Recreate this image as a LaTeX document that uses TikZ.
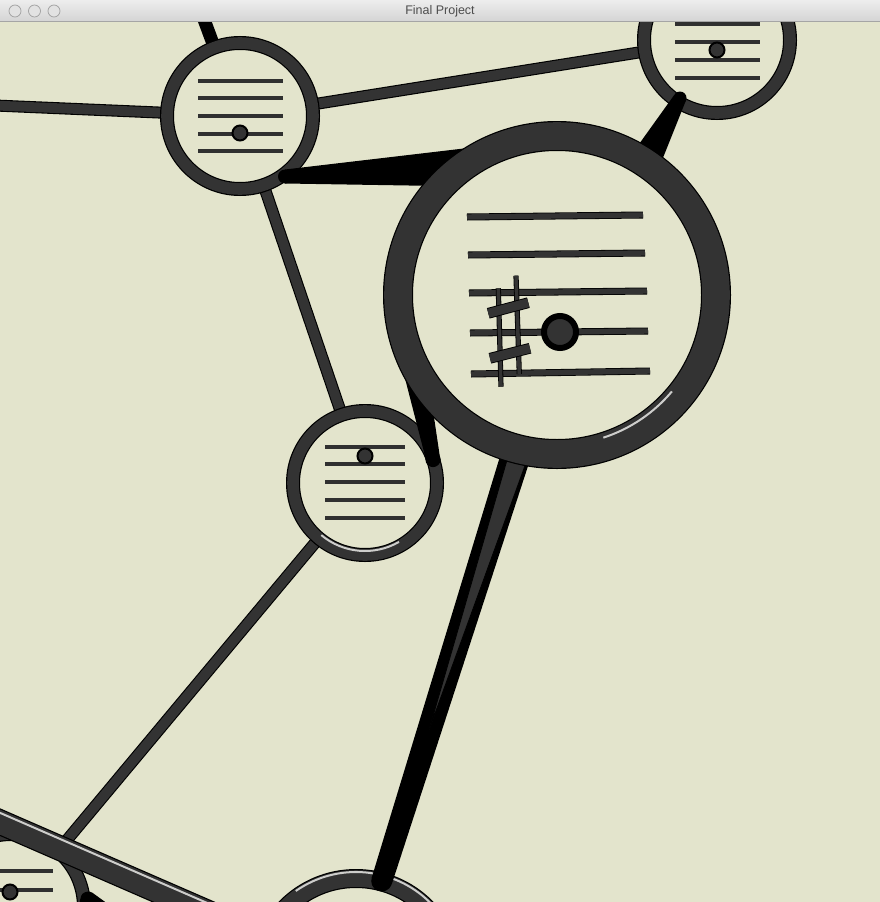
\documentclass[tikz,border=0pt]{standalone}
\usepackage{fontspec}
\setmainfont{Liberation Sans}
\usetikzlibrary{calc}
\definecolor{cream}{RGB}{227,228,204}
\definecolor{ink}{RGB}{51,51,51}
\definecolor{staffc}{RGB}{48,48,48}
\definecolor{hil}{RGB}{205,205,203}
\definecolor{tbtop}{RGB}{237,237,237}
\definecolor{tbbot}{RGB}{212,212,212}
\definecolor{tbline}{RGB}{165,165,165}
\definecolor{titletext}{RGB}{77,77,77}
\definecolor{btnfill}{RGB}{226,226,226}
\definecolor{btnline}{RGB}{160,160,160}
\pgfdeclarelayer{back}
\pgfdeclarelayer{low}
\pgfdeclarelayer{lines}
\pgfdeclarelayer{bar}
\pgfdeclarelayer{wedges}
\pgfdeclarelayer{top}
\pgfdeclarelayer{title}
\pgfsetlayers{back,low,lines,bar,main,wedges,top,title}
\begin{document}
\begin{tikzpicture}[x=1pt,y=-1pt,
  ring/.style={circle, inner sep=0pt, outer sep=0pt, fill=cream, draw=black, line width=1.2pt, double=ink},
  smallring/.style={ring, minimum size=146pt, double distance=11.6pt},
  greyconn/.style={draw=black, line width=1.1pt, double=ink, double distance=9.8pt},
  staffsmall/.style={draw=staffc, line width=4pt},
  staffbig/.style={draw=black, line width=0.8pt, double=ink, double distance=5.4pt},
  sharpstem/.style={draw=black, line width=0.8pt, double=ink, double distance=3.6pt},
  sharpbar/.style={draw=black, line width=0.9pt, double=ink, double distance=9pt},
  note/.style={circle, inner sep=0pt, outer sep=0pt, minimum size=15pt, fill=ink, draw=black, line width=2pt},
  bignote/.style={circle, inner sep=0pt, outer sep=0pt, minimum size=32pt, fill=ink, draw=black, line width=6pt},
  wedge/.style={fill=black},
  highlight/.style={draw=hil, line width=2pt},
  btn/.style={circle, inner sep=0pt, minimum size=12pt, fill=btnfill, draw=btnline, line width=0.7pt}
]
\useasboundingbox (0,0) rectangle (880,902);

\begin{pgfonlayer}{back}
  \fill[cream] (0,0) rectangle (880,902);
\end{pgfonlayer}

% ---------- lower nodes ----------
\begin{pgfonlayer}{low}
  \node[ring, minimum size=197pt, double distance=16.6pt] (F) at (356,977) {};
  \draw[highlight] ($(F.center)+(45:105pt)$) arc[start angle=45, end angle=125, radius=105pt];
\end{pgfonlayer}

\begin{pgfonlayer}{bar}
  \node[smallring] (E) at (11,907) {};
  \begin{scope}[shift={(E.center)}]
    \foreach \yy in {-36,-17,1} \draw[staffsmall] (-42,\yy) -- (42,\yy);
    \node[note] (En) at (-1,-15) {};
  \end{scope}
\end{pgfonlayer}

% ---------- main nodes ----------
\node[smallring] (A) at (240,116) {};
\begin{scope}[shift={(A.center)}]
  \foreach \yy in {-35,-18,0,18,35} \draw[staffsmall] (-42,\yy) -- (43,\yy);
  \node[note] (An) at (0,17) {};
\end{scope}

\node[smallring] (B) at (717,40) {};
\begin{scope}[shift={(B.center)}]
  \foreach \yy in {-34,-16,2,20,38} \draw[staffsmall] (-42,\yy) -- (43,\yy);
  \node[note] (Bn) at (0,10) {};
\end{scope}

\node[ring, minimum size=144pt, double distance=11.6pt] (D) at (365,483) {};
\draw[highlight] ($(D.center)+(-130:68pt)$) arc[start angle=-130, end angle=-60, radius=68pt];
\begin{scope}[shift={(D.center)}]
  \foreach \yy in {-36,-19,-1,17,35} \draw[staffsmall] (-40,\yy) -- (40,\yy);
  \node[note] (Dn) at (0,-27) {};
\end{scope}

% ---------- plain connectors ----------
\coordinate (Lft) at (-40,104);
\coordinate (Up) at (190,-18);
\coordinate (BarEnd) at (-60,796);
\begin{pgfonlayer}{lines}
  \draw[greyconn] (A.center) -- (Lft);
  \draw[greyconn] (A.center) -- (B.center);
  \draw[greyconn] (A.center) -- (D.center);
  \draw[greyconn] (D.center) -- (E.center);
  \draw[black, line width=13pt] (A.center) -- (Up);
\end{pgfonlayer}

% ---------- bar and C-F connector ----------
\begin{pgfonlayer}{bar}
  \draw[draw=black, line width=1.2pt, double=ink, double distance=23pt] (BarEnd) -- (F.center);
  \draw[hil, line width=2pt] ($(BarEnd)!8.5pt!90:(F.center)$) -- ($(F.center)!8.5pt!-90:(BarEnd)$);
  \fill[wedge, rounded corners=3pt] (79,904) -- (82,893) -- (90,891) -- (108,904) -- cycle;
  % C -> F
  \fill[wedge] (505,440) -- (536.5,440) -- (391.8,884) -- (371.6,878) -- cycle;
  \fill[wedge] (381.7,881) circle[radius=10.5pt];
  \filldraw[fill=ink, draw=black, line width=0.8pt] (512.8,440) -- (534.3,440) -- (429,730) -- cycle;
\end{pgfonlayer}

% ---------- tapered connectors into C ----------
\begin{pgfonlayer}{wedges}
  % A -> C
  \fill[wedge] (285,169.5) -- (485,146) -- (440,186) -- (285,183.5) -- cycle;
  \fill[wedge] (285,176.5) circle[radius=7pt];
  % B -> C
  \fill[wedge] (674.3,94.9) -- (685.7,101.1) -- (659.2,167.2) -- (632.8,152.8) -- cycle;
  \fill[wedge] (680,98) circle[radius=6.5pt];
  % C -> D
  \fill[wedge] (390,320) -- (427,370) -- (440.5,461) -- (425.5,458) -- cycle;
  \fill[wedge] (433,459.5) circle[radius=7.6pt];
\end{pgfonlayer}

% ---------- big node C ----------
\begin{pgfonlayer}{top}
  \node[ring, minimum size=318pt, double distance=27.6pt] (C) at (557,295) {};
  \draw[highlight] ($(C.center)+(-72:150pt)$) arc[start angle=-72, end angle=-40, radius=150pt];
  \draw[staffbig] (467,217) -- (643,215);
  \draw[staffbig] (468,255) -- (645,253);
  \draw[staffbig] (469,293) -- (647,291);
  \draw[staffbig] (470,333) -- (648,331);
  \draw[staffbig] (471,374) -- (650,371);
  \draw[sharpstem] (498.3,288.3) -- (501,386.7);
  \draw[sharpstem] (516,275.7) -- (519.3,374);
  \draw[sharpbar] (488.3,313.3) -- (528.3,302.7);
  \draw[sharpbar] (490,358.3) -- (530,348.3);
  \node[bignote] (Cn) at (560,332) {};
\end{pgfonlayer}

% ---------- window title bar ----------
\begin{pgfonlayer}{title}
  \shade[top color=tbtop, bottom color=tbbot] (0,0) rectangle (880,21.5);
  \draw[tbline, line width=0.8pt] (0,21.5) -- (880,21.5);
  \node[font=\fontsize{12.5}{15}\selectfont, text=titletext] (title) at (440,11) {Final Project};
  \node[btn] (b1) at (15,11) {};
  \node[btn] (b2) at (34.5,11) {};
  \node[btn] (b3) at (54,11) {};
\end{pgfonlayer}
\end{tikzpicture}
\end{document}
